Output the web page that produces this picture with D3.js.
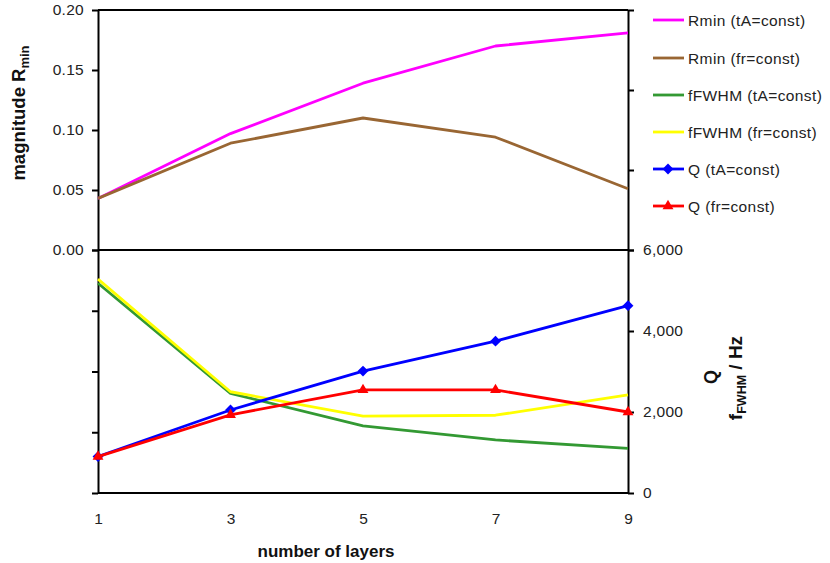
<!DOCTYPE html>
<html>
<head>
<meta charset="utf-8">
<script src="https://cdn.jsdelivr.net/npm/d3@7"></script>
<style>
  html, body { margin: 0; padding: 0; background: #fff; }
  svg { display: block; font-family: "Liberation Sans", Arial, sans-serif; }
</style>
</head>
<body>
<svg id="chart" width="830" height="563"></svg>
<script>
// ---- data ----
const layers = [1, 3, 5, 7, 9];
const rminTA = [0.043, 0.097, 0.139, 0.170, 0.181];
const rminFR = [0.043, 0.089, 0.110, 0.094, 0.051];
const fwhmTA = [5180, 2460, 1660, 1310, 1100];
const fwhmFR = [5280, 2500, 1900, 1920, 2420];
const qTA = [900, 2050, 3010, 3750, 4625];
const qFR = [900, 1930, 2545, 2545, 2000];

const xTicks = [1, 3, 5, 7, 9];
const topLeftTicks = [0, 0.05, 0.10, 0.15, 0.20];
const bottomRightTicks = [0, 2000, 4000, 6000];

const seriesNames = ["Rmin (tA=const)", "Rmin (fr=const)", "fFWHM (tA=const)", "fFWHM (fr=const)", "Q (tA=const)", "Q  (fr=const)"];

// ---- layout ----
const svg = d3.select("#chart");
const L = 98, R = 628, T = 10, MID = 250, B = 493;

const x = d3.scaleLinear().domain([1, 9]).range([L, R]);
const yTop = d3.scaleLinear().domain([0, 0.2]).range([MID, T]);
const yTopR = d3.scaleLinear().domain([0, 3]).range([MID, T]);
const yBot = d3.scaleLinear().domain([0, 6000]).range([B, MID]);
const yBotL = d3.scaleLinear().domain([0, 4]).range([B, MID]);

const fmtTop = d3.format(".2f");
const fmtBot = d3.format(",");

// frame lines
const frame = svg.append("g").attr("stroke", "#000").attr("stroke-width", 2);
frame.append("line").attr("x1", L).attr("x2", R).attr("y1", T).attr("y2", T);
frame.append("line").attr("x1", L).attr("x2", R).attr("y1", MID).attr("y2", MID);
frame.append("line").attr("x1", L).attr("x2", R).attr("y1", B).attr("y2", B);

function styleAxis(g) {
  g.select(".domain").attr("stroke", "#000").attr("stroke-width", 2);
  g.selectAll(".tick line").attr("stroke", "#000").attr("stroke-width", 2);
  g.selectAll(".tick text").attr("fill", "#222").attr("font-size", "15.5px")
    .attr("letter-spacing", "0.3px")
    .attr("font-family", "'Liberation Sans', Arial, sans-serif");
}

// top left axis
svg.append("g").attr("transform", `translate(${L},0)`)
  .call(d3.axisLeft(yTop).tickValues(topLeftTicks).tickFormat(fmtTop).tickSizeInner(6).tickSizeOuter(0).tickPadding(8))
  .call(styleAxis);
// top right axis (unlabelled)
svg.append("g").attr("transform", `translate(${R},0)`)
  .call(d3.axisRight(yTopR).ticks(3).tickFormat("").tickSizeInner(6).tickSizeOuter(0))
  .call(styleAxis);
// bottom left axis (unlabelled)
svg.append("g").attr("transform", `translate(${L},0)`)
  .call(d3.axisLeft(yBotL).ticks(4).tickFormat("").tickSizeInner(6).tickSizeOuter(0))
  .call(styleAxis);
// bottom right axis
svg.append("g").attr("transform", `translate(${R},0)`)
  .call(d3.axisRight(yBot).tickValues(bottomRightTicks).tickFormat(fmtBot).tickSizeInner(6).tickSizeOuter(0).tickPadding(9))
  .call(styleAxis);
// x axis labels (no tick marks)
const xAx = svg.append("g").attr("transform", `translate(0,${B})`)
  .call(d3.axisBottom(x).tickValues(xTicks).tickFormat(d3.format("d")).tickSize(0).tickPadding(20));
xAx.select(".domain").remove();
xAx.selectAll(".tick text").attr("fill", "#222").attr("font-size", "15.5px")
  .attr("font-family", "'Liberation Sans', Arial, sans-serif");

// ---- series ----
const series = [
  { name: seriesNames[0], vals: rminTA, y: yTop, color: "#ff00ff", marker: null },
  { name: seriesNames[1], vals: rminFR, y: yTop, color: "#996633", marker: null },
  { name: seriesNames[2], vals: fwhmTA, y: yBot, color: "#339933", marker: null },
  { name: seriesNames[3], vals: fwhmFR, y: yBot, color: "#ffff00", marker: null },
  { name: seriesNames[4], vals: qTA, y: yBot, color: "#0000ff", marker: "diamond" },
  { name: seriesNames[5], vals: qFR, y: yBot, color: "#ff0000", marker: "triangle" }
];

const symDiamond = d3.symbol().type(d3.symbolDiamond2).size(75);
const symTriangle = d3.symbol().type(d3.symbolTriangle2).size(85);

series.forEach(s => {
  const pts = layers.map((l, i) => [l, s.vals[i]]);
  const line = d3.line().x(d => x(d[0])).y(d => s.y(d[1]));
  svg.append("path").datum(pts).attr("d", line)
    .attr("fill", "none").attr("stroke", s.color).attr("stroke-width", 2.8)
    .attr("stroke-linejoin", "round");
  if (s.marker) {
    const sym = s.marker === "diamond" ? symDiamond : symTriangle;
    svg.append("g").selectAll("path").data(pts).join("path")
      .attr("d", sym)
      .attr("transform", d => `translate(${x(d[0])},${s.y(d[1])})`)
      .attr("fill", s.color);
  }
});

// ---- legend ----
const legY = [20, 58, 95, 132, 169, 206];
const leg = svg.append("g");
series.forEach((s, i) => {
  const g = leg.append("g").attr("transform", `translate(0,${legY[i]})`);
  g.append("line").attr("x1", 653).attr("x2", 684).attr("y1", 0).attr("y2", 0)
    .attr("stroke", s.color).attr("stroke-width", 2.8);
  if (s.marker) {
    const sym = s.marker === "diamond" ? symDiamond : symTriangle;
    g.append("path").attr("d", sym).attr("transform", "translate(668,0)").attr("fill", s.color);
  }
  g.append("text").attr("x", 688).attr("y", 5.5).attr("font-size", "15.5px")
    .attr("letter-spacing", "0.4px").attr("fill", "#222").text(s.name);
});

// ---- axis titles ----
const lt = svg.append("text").attr("transform", "translate(25,113) rotate(-90)")
  .attr("text-anchor", "middle").attr("font-size", "18.5px").attr("font-weight", "bold").attr("fill", "#111");
lt.append("tspan").text("magnitude R");
lt.append("tspan").attr("font-size", "13px").attr("dy", 4).text("min");

svg.append("text").attr("x", 326).attr("y", 557).attr("text-anchor", "middle")
  .attr("font-size", "17px").attr("font-weight", "bold").attr("fill", "#111").text("number of layers");

svg.append("text").attr("transform", "translate(717,377) rotate(-90)")
  .attr("text-anchor", "middle").attr("font-size", "18px").attr("font-weight", "bold").attr("fill", "#111").text("Q");
const rt = svg.append("text").attr("transform", "translate(742,378) rotate(-90)")
  .attr("text-anchor", "middle").attr("font-size", "19px").attr("font-weight", "bold").attr("fill", "#111");
rt.append("tspan").text("f");
rt.append("tspan").attr("font-size", "12.5px").attr("dy", 4).text("FWHM");
rt.append("tspan").attr("dy", -4).text(" / Hz");
</script>
</body>
</html>
